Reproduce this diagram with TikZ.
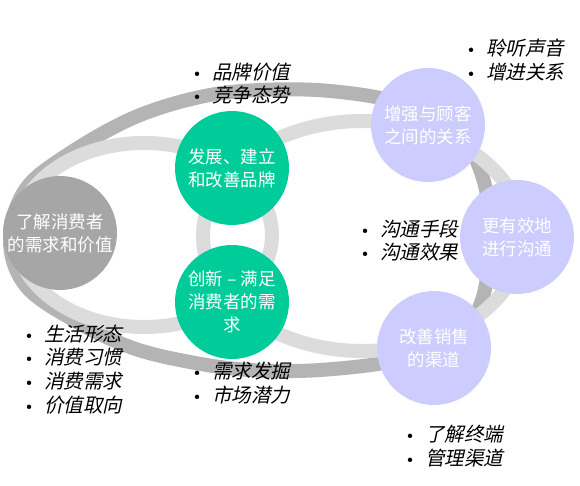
\documentclass[tikz,border=0pt]{standalone}
\usepackage{fontspec}
\newfontfamily\cjk{Noto Sans CJK SC}
\newfontfamily\cjkit{Noto Sans CJK SC}[FakeSlant=0.22]
\definecolor{darkband}{RGB}{180,180,180}
\definecolor{lightband}{RGB}{220,220,220}
\definecolor{leftgray}{RGB}{166,166,166}
\definecolor{mygreen}{RGB}{0,204,153}
\definecolor{mypurple}{RGB}{204,204,255}
\begin{document}
\begin{tikzpicture}[x=1pt,y=-1pt,
  disc/.style={circle, minimum size=114pt, inner sep=0pt, align=center, text=white, font=\cjk\fontsize{17.5}{23}\selectfont},
  bul/.style={anchor=west, inner sep=0pt, font=\fontsize{19.5}{24}\selectfont}]
\useasboundingbox (0,0) rectangle (580,486);
\fill[white] (0,0) rectangle (580,486);
% outer dark ribbon
\draw[darkband, line width=14pt] plot[smooth cycle, tension=0.6] coordinates {
 (10,240) (25,190) (67,155) (133,118) (200,97) (260,90) (330,91) (400,103)
 (455,130) (482,175) (490,235) (482,300) (455,340) (400,360) (320,370)
 (250,370) (190,362) (130,347) (70,318) (25,285)};
% light rings
\draw[lightband, line width=14pt] (144,235) ellipse [x radius=128pt, y radius=92pt];
\draw[lightband, line width=14pt] (363,236) ellipse [x radius=160pt, y radius=115pt];
% discs
\node[disc, fill=leftgray] (c1) at (60,233) {了解消费者\\的需求和价值};
\node[disc, fill=mygreen] (g1) at (232,168) {发展、建立\\和改善品牌};
\node[disc, fill=mygreen] (g2) at (232,302) {创新 – 满足\\消费者的需\\求};
\node[disc, fill=mypurple] (p1) at (428,125) {增强与顾客\\之间的关系};
\node[disc, fill=mypurple] (p2) at (517,237) {更有效地\\进行沟通};
\node[disc, fill=mypurple] (p3) at (434,348) {改善销售\\的渠道};
% bullet lists
\node[bul] (t1) at (190,72) {\textbullet\hspace{8pt}{\cjkit 品牌价值}};
\node[bul] (t2) at (190,95) {\textbullet\hspace{8pt}{\cjkit 竞争态势}};
\node[bul] (t3) at (464,48) {\textbullet\hspace{8pt}{\cjkit 聆听声音}};
\node[bul] (t4) at (464,72) {\textbullet\hspace{8pt}{\cjkit 增进关系}};
\node[bul] (t5) at (358,229) {\textbullet\hspace{8pt}{\cjkit 沟通手段}};
\node[bul] (t6) at (358,252) {\textbullet\hspace{8pt}{\cjkit 沟通效果}};
\node[bul] (t7) at (22,334) {\textbullet\hspace{8pt}{\cjkit 生活形态}};
\node[bul] (t8) at (22,357) {\textbullet\hspace{8pt}{\cjkit 消费习惯}};
\node[bul] (t9) at (22,381) {\textbullet\hspace{8pt}{\cjkit 消费需求}};
\node[bul] (t10) at (22,405) {\textbullet\hspace{8pt}{\cjkit 价值取向}};
\node[bul] (t11) at (190,371) {\textbullet\hspace{8pt}{\cjkit 需求发掘}};
\node[bul] (t12) at (190,395) {\textbullet\hspace{8pt}{\cjkit 市场潜力}};
\node[bul] (t13) at (403,434) {\textbullet\hspace{8pt}{\cjkit 了解终端}};
\node[bul] (t14) at (403,458) {\textbullet\hspace{8pt}{\cjkit 管理渠道}};
\end{tikzpicture}
\end{document}
